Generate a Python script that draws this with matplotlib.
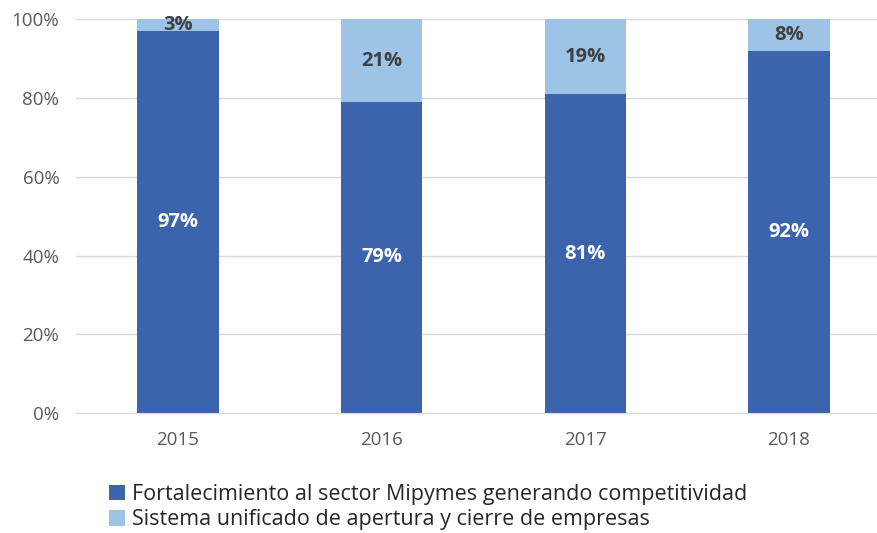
import matplotlib.pyplot as plt
import numpy as np

years = ["2015", "2016", "2017", "2018"]
fortalecimiento = [97, 79, 81, 92]
sistema = [3, 21, 19, 8]
labels = ["Fortalecimiento al sector Mipymes generando competitividad",
          "Sistema unificado de apertura y cierre de empresas"]

plt.rcParams['font.family'] = ['Open Sans', 'DejaVu Sans']

fig = plt.figure(figsize=(8.78, 5.33), dpi=100)
ax = fig.add_axes([0.0866, 0.225, 0.928, 0.739])

x = np.arange(len(years))
w = 0.4
dark = '#3C64AD'
light = '#9DC3E6'

b1 = ax.bar(x, fortalecimiento, w, color=dark, label=labels[0], zorder=2)
b2 = ax.bar(x, sistema, w, bottom=fortalecimiento, color=light, label=labels[1], zorder=2)

for i in range(len(years)):
    ax.text(x[i], fortalecimiento[i] / 2, "%d%%" % fortalecimiento[i], ha='center', va='center',
            color='white', fontsize=14.5, fontweight='bold')
    ax.text(x[i], fortalecimiento[i] + sistema[i] / 2, "%d%%" % sistema[i], ha='center', va='center',
            color='#404040', fontsize=14.5, fontweight='bold')

ax.set_xlim(-0.5, 3.5)
ax.set_ylim(0, 100)
ax.set_yticks([0, 20, 40, 60, 80, 100])
ax.set_yticklabels(["%d%%" % v for v in [0, 20, 40, 60, 80, 100]])
ax.set_xticks(x)
ax.set_xticklabels(years)
ax.grid(axis='y', color='#D9D9D9', linewidth=1, zorder=0)
for s in ['top', 'right', 'left']:
    ax.spines[s].set_visible(False)
ax.spines['bottom'].set_color('#D9D9D9')
ax.tick_params(axis='both', length=0, colors='#595959', labelsize=13.5)
ax.tick_params(axis='x', pad=13)
ax.tick_params(axis='y', pad=12)

fig.legend(handles=[b1, b2], labels=labels, loc='upper left', bbox_to_anchor=(0.112, 0.112),
           frameon=False, fontsize=15.5, handlelength=0.75, handleheight=0.75,
           handletextpad=0.3, labelspacing=0.2, borderpad=0, labelcolor='#262626')

fig.savefig("out.png", dpi=100)
